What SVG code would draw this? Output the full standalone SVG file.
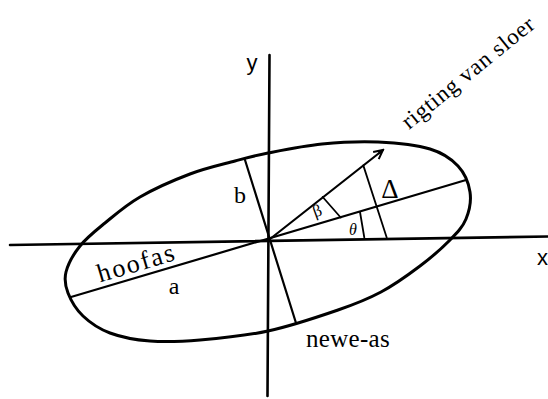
<svg xmlns="http://www.w3.org/2000/svg" width="548" height="399" viewBox="0 0 548 399">
<style>
.ln{stroke:#000;fill:none;stroke-linecap:round}
.ax{stroke-width:2.6}
.el{stroke-width:3}
.in{stroke-width:2.2}
.th{stroke-width:1.8}
.sf{font-family:"Liberation Serif","Times New Roman",serif;fill:#000}
.ss{font-family:"Liberation Sans",Arial,sans-serif;fill:#000}
</style>
<defs>
<marker id="ah" markerWidth="12" markerHeight="12" refX="10" refY="6" orient="auto" markerUnits="userSpaceOnUse">
<path d="M1,1.5 L10,6 L1,10.5 M10,6 L4,6" stroke="#000" stroke-width="2" fill="none"/>
</marker>
</defs>
<rect width="548" height="399" fill="#fff"/>
<g id="ellipse">
<path class="ln el" d="M268,153 C282.5,150.17 303.67,145.83 322,144 C340.33,142.17 360,141.17 378,142 C396,142.83 416.67,145 430,149 C443.33,153 451.33,158.83 458,166 C464.67,173.17 468.67,183.17 470,192 C471.33,200.83 469.33,211 466,219 C462.67,227 457.67,232.17 450,240 C442.33,247.83 431.5,257.33 420,266 C408.5,274.67 394.67,284.67 381,292 C367.33,299.33 356.83,303.5 338,310 C319.17,316.5 291,326 268,331 C245,336 219.67,338.33 200,340 C180.33,341.67 165,342.17 150,341 C135,339.83 121.17,337.17 110,333 C98.83,328.83 90,322.67 83,316 C76,309.33 70.83,300.33 68,293 C65.17,285.67 64,279.83 66,272 C68,264.17 73.5,254.17 80,246 C86.5,237.830 95,231.17 105,223 C115,214.83 125.83,205.17 140,197 C154.17,188.83 174.17,180 190,174 C205.83,168 222,164.5 235,161 C248,157.5 253.5,155.83 268,153 Z"/>
</g>
<g id="connectors">
<line id="x-axis" class="ln ax" x1="10" y1="245" x2="548" y2="236.5"/>
<line id="y-axis" class="ln ax" x1="269.5" y1="55" x2="267.5" y2="396"/>
<line id="hoofas" class="ln in" x1="71" y1="297" x2="466" y2="180"/>
<line id="newe-as" class="ln in" x1="245" y1="160" x2="296" y2="323"/>
<line id="sloer" class="ln in" x1="270" y1="239" x2="383" y2="150" marker-end="url(#ah)"/>
<line id="beta-line" class="ln th" x1="322.7" y1="197" x2="340.7" y2="217.5"/>
<line id="theta-line" class="ln th" x1="360" y1="212" x2="364.3" y2="237.5"/>
<line id="delta-line" class="ln th" x1="363.3" y1="165.4" x2="386.7" y2="237.5"/>
</g>
<g id="labels">
<text class="ss" x="252" y="70" font-size="22" text-anchor="middle">y</text>
<text class="ss" x="537" y="265" font-size="22">x</text>
<text class="sf" x="240" y="203" font-size="24" text-anchor="middle">b</text>
<text class="sf" x="174" y="293.5" font-size="24" text-anchor="middle">a</text>
<text class="sf" font-size="26" letter-spacing="2" transform="translate(100,282.5) rotate(-16.5)">hoofas</text>
<text class="sf" x="306" y="347" font-size="25" letter-spacing="0.3">newe-as</text>
<text class="sf" font-size="23" letter-spacing="0.8" transform="translate(409,130) rotate(-39)">rigting van sloer</text>
<text class="sf" font-size="17" text-anchor="middle" transform="translate(319,216) rotate(-20)">β</text>
<text class="sf" x="353" y="234.5" font-size="16" font-style="italic" text-anchor="middle">θ</text>
<text class="sf" x="390" y="198" font-size="27" text-anchor="middle">Δ</text>
</g>
</svg>
